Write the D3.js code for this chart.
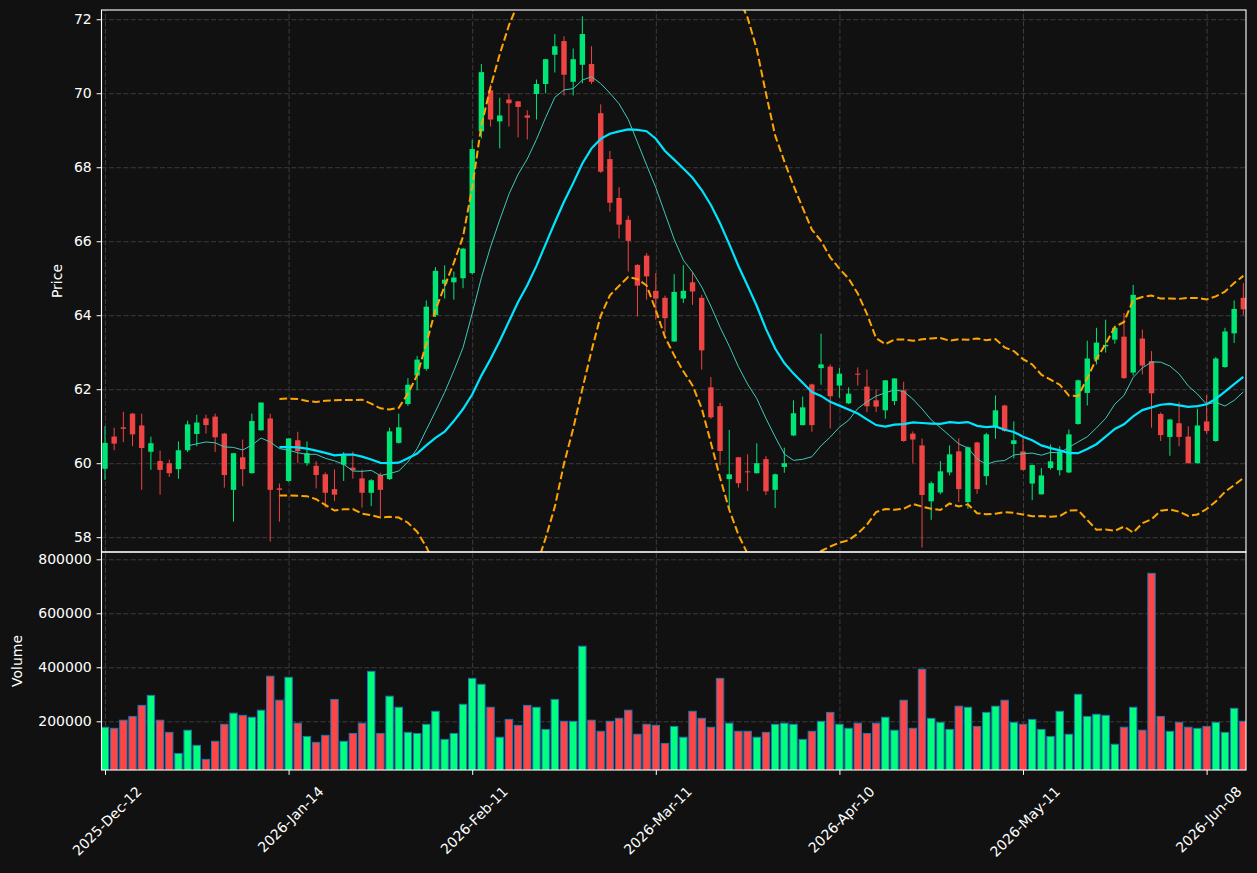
<!DOCTYPE html>
<html lang="en">

<head>
  <meta charset="UTF-8">
  <title>Price and Volume</title>
  <script src="https://d3js.org/d3.v7.min.js"></script>
  <style>
    body {
      margin: 0;
      background: #111111;
    }

    text {
      font-family: "DejaVu Sans", sans-serif;
      fill: #ffffff;
    }

    .grid line {
      stroke: #3c3c3c;
      stroke-dasharray: 5.1, 2.2;
    }

    .grid path {
      display: none;
    }
  </style>
</head>

<body>
  <div id="chart"></div>

  <script>
    // OHLC values, one entry per trading day
    const opens = [59.85, 60.72, 60.97, 61.34, 61.02, 60.31, 60.06, 60.0, 59.84, 60.35,
      60.79, 61.21, 61.26, 60.8, 59.28, 60.16, 59.73, 60.89, 61.21, 59.32,
      59.52, 60.62, 60.0, 59.93, 59.7, 59.3, 59.96, 59.88, 59.59, 59.2,
      59.68, 59.57, 60.55, 61.6, 62.37, 62.55, 64.0, 64.85, 64.89, 65.0,
      65.14, 68.97, 70.08, 69.24, 69.83, 69.78, 69.4, 69.98, 70.25, 71.04,
      71.41, 70.31, 70.77, 70.79, 69.46, 68.22, 67.17, 66.58, 65.36, 65.61,
      64.66, 64.47, 63.29, 64.45, 64.89, 64.47, 62.05, 61.54, 59.57, 60.16,
      59.78, 59.73, 60.11, 59.28, 59.9, 60.75, 61.03, 62.13, 62.57, 62.61,
      62.1, 61.62, 62.42, 62.07, 61.7, 61.43, 61.68, 61.97, 60.8, 60.48,
      58.97, 59.21, 59.75, 60.32, 58.95, 60.56, 59.65, 61.0, 61.56, 60.52,
      60.32, 59.45, 59.16, 59.87, 59.81, 59.75, 61.06, 61.9, 62.8, 63.16,
      63.34, 63.42, 62.45, 63.37, 62.76, 61.33, 60.71, 61.08, 60.72, 60.0,
      61.13, 60.6, 62.6, 63.51, 64.47];
    const highs = [61.0, 60.96, 61.39, 61.36, 61.34, 60.72, 60.34, 60.1, 60.59, 61.15,
      61.31, 61.31, 61.34, 60.82, 60.28, 60.64, 61.34, 61.64, 61.34, 59.45,
      60.67, 60.85, 60.59, 60.05, 59.75, 59.83, 60.3, 60.31, 59.83, 59.57,
      59.74, 60.96, 61.34, 62.3, 62.9, 64.4, 65.3, 65.35, 65.18, 65.82,
      68.74, 70.79, 70.25, 69.88, 70.0, 69.79, 69.54, 70.37, 70.93, 71.6,
      71.54, 71.21, 72.08, 71.27, 69.7, 68.44, 67.46, 66.69, 65.38, 65.68,
      65.14, 64.53, 65.11, 65.35, 65.16, 64.55, 62.33, 61.63, 60.9, 60.17,
      60.24, 60.54, 60.19, 59.72, 60.42, 61.7, 61.8, 62.15, 63.5, 62.67,
      62.57, 62.05, 62.59, 62.53, 61.99, 62.25, 62.3, 62.2, 60.86, 60.67,
      59.51, 60.06, 60.48, 60.67, 60.45, 60.58, 60.82, 61.83, 61.58, 61.13,
      60.67, 59.96, 59.87, 60.51, 60.46, 60.91, 62.26, 63.31, 63.66, 63.88,
      63.72, 64.06, 64.82, 63.61, 63.03, 61.37, 61.2, 61.65, 61.0, 61.47,
      61.84, 62.87, 63.66, 64.4, 64.87];
    const lows = [59.55, 60.35, 60.57, 60.46, 59.28, 59.82, 59.15, 59.63, 59.58, 60.3,
      60.46, 60.8, 60.3, 59.34, 58.42, 59.38, 59.72, 60.88, 57.88, 58.42,
      59.5, 60.0, 59.93, 59.32, 58.8, 58.98, 59.52, 59.58, 58.8, 58.84,
      58.57, 59.55, 60.53, 61.55, 61.97, 62.5, 63.95, 64.45, 64.42, 64.73,
      65.1, 68.78, 69.1, 68.51, 69.1, 68.81, 68.75, 69.29, 70.0, 70.56,
      69.94, 69.94, 70.27, 70.25, 67.85, 66.8, 66.07, 65.18, 63.97, 64.42,
      63.88, 63.52, 63.28, 64.33, 64.28, 62.53, 61.2, 59.95, 58.76, 59.34,
      59.25, 59.72, 59.14, 58.79, 59.74, 60.73, 61.02, 60.85, 62.12, 60.94,
      61.77, 61.6, 62.1, 61.38, 61.38, 61.2, 61.57, 60.58, 60.0, 57.72,
      58.47, 59.16, 59.67, 58.95, 58.77, 59.17, 59.41, 60.66, 60.85, 60.13,
      59.8, 59.0, 59.15, 59.83, 59.67, 59.73, 61.04, 61.56, 62.67, 62.99,
      63.23, 62.28, 62.37, 62.4, 60.96, 60.6, 60.2, 60.46, 59.99, 59.99,
      60.8, 60.58, 62.58, 63.25, 64.0];
    const closes = [60.55, 60.53, 60.93, 60.78, 60.41, 60.54, 59.82, 59.73, 60.35, 61.05,
      61.1, 61.03, 60.7, 59.68, 60.27, 59.84, 61.14, 61.64, 59.28, 59.28,
      60.67, 60.33, 60.27, 59.68, 59.2, 59.15, 60.21, 59.81, 59.2, 59.54,
      59.28, 60.86, 60.97, 62.12, 62.8, 64.23, 65.2, 64.96, 65.02, 65.8,
      68.49, 70.57, 69.29, 69.4, 69.73, 69.63, 69.34, 70.25, 70.92, 71.27,
      70.5, 70.92, 71.6, 70.31, 67.88, 67.04, 66.45, 66.01, 64.8, 65.05,
      64.45, 63.92, 64.63, 64.66, 64.64, 63.05, 61.24, 60.33, 59.7, 59.46,
      59.76, 60.0, 59.24, 59.7, 60.0, 61.35, 61.51, 61.03, 62.67, 61.81,
      62.42, 61.88, 62.4, 61.54, 61.53, 62.24, 62.29, 60.6, 60.64, 59.14,
      59.46, 59.78, 60.24, 59.3, 60.43, 59.3, 60.78, 61.43, 60.87, 60.62,
      59.82, 59.95, 59.67, 60.05, 60.32, 60.78, 62.24, 62.83, 63.26, 63.2,
      63.66, 62.3, 64.55, 62.64, 61.89, 60.76, 61.18, 60.71, 60.0, 61.02,
      60.87, 62.83, 63.56, 64.17, 64.16];
    const volumes = [178000, 174000, 204000, 218000, 259000, 296000, 204000, 159000, 81000, 167000,
      111000, 59000, 126000, 189000, 230000, 222000, 215000, 241000, 367000, 278000,
      363000, 193000, 144000, 122000, 148000, 281000, 126000, 155000, 193000, 385000,
      155000, 293000, 252000, 159000, 155000, 189000, 237000, 133000, 155000, 263000,
      359000, 337000, 252000, 141000, 207000, 185000, 259000, 252000, 170000, 281000,
      200000, 200000, 478000, 204000, 163000, 200000, 211000, 241000, 152000, 189000,
      185000, 118000, 181000, 141000, 237000, 211000, 178000, 359000, 193000, 163000,
      163000, 141000, 159000, 189000, 193000, 189000, 133000, 163000, 200000, 233000,
      189000, 174000, 193000, 155000, 193000, 215000, 167000, 278000, 174000, 393000,
      211000, 196000, 170000, 256000, 252000, 181000, 233000, 256000, 278000, 196000,
      189000, 207000, 170000, 144000, 237000, 152000, 300000, 218000, 226000, 222000,
      115000, 178000, 252000, 167000, 748000, 218000, 163000, 196000, 178000, 174000,
      181000, 196000, 159000, 248000, 200000];

    const tickIndex = [0, 20, 40, 60, 80, 100, 120];
    const tickLabels = ["2025-Dec-12", "2026-Jan-14", "2026-Feb-11", "2026-Mar-11",
      "2026-Apr-10", "2026-May-11", "2026-Jun-08"];
    const priceTicks = [58, 60, 62, 64, 66, 68, 70, 72];
    const volumeTicks = [200000, 400000, 600000, 800000];

    const width = 1257;
    const height = 873;
    const left = 101.5, right = 1246;
    const priceTop = 10, priceBottom = 552, volBottom = 770;

    const upColor = "#00e676", downColor = "#ef4444";
    const volUp = "#00ff7f", volDown = "#ff4545";

    const data = closes.map((c, i) => ({
      i: i, open: opens[i], high: highs[i], low: lows[i], close: c, volume: volumes[i]
    }));

    // moving averages and bollinger bands from the closes
    function sma(n) {
      const out = [];
      for (let i = n - 1; i < closes.length; i++) {
        out.push({ i: i, v: d3.mean(closes.slice(i - n + 1, i + 1)) });
      }
      return out;
    }
    function band(n, k) {
      const out = [];
      for (let i = n - 1; i < closes.length; i++) {
        const w = closes.slice(i - n + 1, i + 1);
        const m = d3.mean(w), s = d3.deviation(w);
        out.push({ i: i, up: m + k * s, lo: m - k * s });
      }
      return out;
    }
    const ma10 = sma(10);
    const ma20 = sma(20);
    const bb = band(20, 2);

    const svg = d3.select("#chart")
      .append("svg")
      .attr("width", width)
      .attr("height", height)
      .style("display", "block")
      .style("background", "#111111");

    const x = d3.scaleLinear().domain([-0.38, 124.29]).range([left, right]);
    const y = d3.scaleLinear().domain([57.6, 72.25]).range([priceBottom, priceTop]);
    const yv = d3.scaleLinear().domain([19600, 827000]).range([volBottom, priceBottom]);

    const defs = svg.append("defs");
    defs.append("clipPath").attr("id", "clipPrice")
      .append("rect").attr("x", left).attr("y", priceTop)
      .attr("width", right - left).attr("height", priceBottom - priceTop);
    defs.append("clipPath").attr("id", "clipVol")
      .append("rect").attr("x", left).attr("y", priceBottom)
      .attr("width", right - left).attr("height", volBottom - priceBottom);

    // grid lines
    svg.append("g").attr("class", "grid")
      .attr("transform", `translate(${left},0)`)
      .call(d3.axisLeft(y).tickValues(priceTicks).tickSize(-(right - left)).tickFormat(""));
    svg.append("g").attr("class", "grid")
      .attr("transform", `translate(${left},0)`)
      .call(d3.axisLeft(yv).tickValues(volumeTicks).tickSize(-(right - left)).tickFormat(""));
    svg.append("g").attr("class", "grid")
      .attr("transform", `translate(0,${priceBottom})`)
      .call(d3.axisBottom(x).tickValues(tickIndex).tickSize(-(priceBottom - priceTop)).tickFormat(""));
    svg.append("g").attr("class", "grid")
      .attr("transform", `translate(0,${volBottom})`)
      .call(d3.axisBottom(x).tickValues(tickIndex).tickSize(-(volBottom - priceBottom)).tickFormat(""));

    // candles
    const candles = svg.append("g").attr("clip-path", "url(#clipPrice)");
    candles.selectAll(".wick")
      .data(data)
      .enter()
      .append("line")
      .attr("x1", d => x(d.i))
      .attr("x2", d => x(d.i))
      .attr("y1", d => y(d.high))
      .attr("y2", d => y(d.low))
      .attr("stroke", d => d.close >= d.open ? upColor : downColor)
      .attr("stroke-width", 1);
    candles.selectAll(".body")
      .data(data)
      .enter()
      .append("rect")
      .attr("x", d => x(d.i) - 2.7)
      .attr("width", 5.4)
      .attr("y", d => y(Math.max(d.open, d.close)))
      .attr("height", d => Math.max(1, y(Math.min(d.open, d.close)) - y(Math.max(d.open, d.close))))
      .attr("fill", d => d.close >= d.open ? upColor : downColor);

    // indicator lines
    const line = d3.line().x(d => x(d.i)).y(d => y(d.v));
    candles.append("path").datum(bb.map(d => ({ i: d.i, v: d.up })))
      .attr("d", line).attr("fill", "none").attr("stroke", "#ffa500")
      .attr("stroke-width", 2).attr("stroke-dasharray", "7.7,3.3");
    candles.append("path").datum(bb.map(d => ({ i: d.i, v: d.lo })))
      .attr("d", line).attr("fill", "none").attr("stroke", "#ffa500")
      .attr("stroke-width", 2).attr("stroke-dasharray", "7.7,3.3");
    candles.append("path").datum(ma10)
      .attr("d", line).attr("fill", "none").attr("stroke", "#3fc9b9")
      .attr("stroke-width", 1);
    candles.append("path").datum(ma20)
      .attr("d", line).attr("fill", "none").attr("stroke", "#00e5ff")
      .attr("stroke-width", 2.2);

    // volume bars
    svg.append("g").attr("clip-path", "url(#clipVol)")
      .selectAll("rect")
      .data(data)
      .enter()
      .append("rect")
      .attr("x", d => x(d.i) - 3.7)
      .attr("width", 7.4)
      .attr("y", d => yv(d.volume))
      .attr("height", d => volBottom + 2 - yv(d.volume))
      .attr("fill", d => d.close >= d.open ? volUp : volDown)
      .attr("stroke", "#1f77b4")
      .attr("stroke-width", 1);

    // axes
    function styleAxis(g) {
      g.select(".domain").remove();
      g.selectAll(".tick line").attr("stroke", "#ffffff").attr("stroke-width", 1);
      g.selectAll(".tick text").attr("fill", "#ffffff").style("font-size", "14px")
        .style("font-family", "DejaVu Sans, sans-serif");
    }
    svg.append("g")
      .attr("transform", `translate(${left},0)`)
      .call(d3.axisLeft(y).tickValues(priceTicks).tickSize(4.9).tickPadding(4.9).tickFormat(d3.format("d")))
      .call(styleAxis);
    svg.append("g")
      .attr("transform", `translate(${left},0)`)
      .call(d3.axisLeft(yv).tickValues(volumeTicks).tickSize(4.9).tickPadding(4.9).tickFormat(d3.format("d")))
      .call(styleAxis);

    const xAxis = svg.append("g")
      .attr("transform", `translate(0,${volBottom})`)
      .call(d3.axisBottom(x).tickValues(tickIndex).tickSize(4.9).tickFormat((d, k) => tickLabels[k]))
      .call(styleAxis);
    xAxis.selectAll(".tick text")
      .attr("text-anchor", "end")
      .attr("dy", null)
      .attr("y", null)
      .each(function () {
        const w = this.getComputedTextLength();
        const off = (w + 14) * 0.354;
        d3.select(this).attr("transform", `translate(${off},22.5) rotate(-45)`);
      });

    // frames
    svg.append("rect").attr("x", left).attr("y", priceTop)
      .attr("width", right - left).attr("height", priceBottom - priceTop)
      .attr("fill", "none").attr("stroke", "#ffffff").attr("stroke-width", 1.1);
    svg.append("rect").attr("x", left).attr("y", priceBottom)
      .attr("width", right - left).attr("height", volBottom - priceBottom)
      .attr("fill", "none").attr("stroke", "#ffffff").attr("stroke-width", 1.1);

    // axis labels
    svg.append("text")
      .attr("text-anchor", "middle")
      .attr("transform", `translate(62,${(priceTop + priceBottom) / 2}) rotate(-90)`)
      .style("font-size", "14px")
      .text("Price");
    svg.append("text")
      .attr("text-anchor", "middle")
      .attr("transform", `translate(22,${(priceBottom + volBottom) / 2}) rotate(-90)`)
      .style("font-size", "14px")
      .text("Volume");
  </script>
</body>

</html>
